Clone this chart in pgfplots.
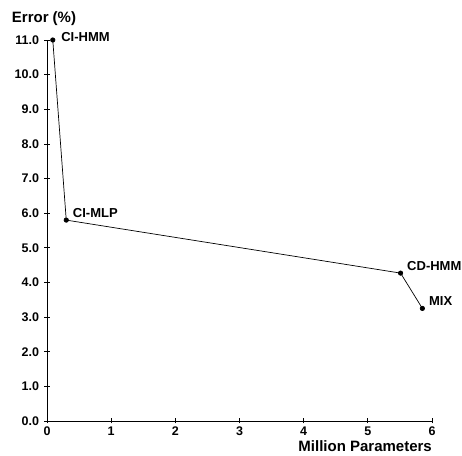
\documentclass[border=0pt]{standalone}
\usepackage{fontspec}
\setmainfont{Liberation Sans}
\usepackage{pgfplots}
\pgfplotsset{compat=1.18}
\begin{document}
\begin{tikzpicture}
\begin{axis}[
  scale only axis,
  width=385pt, height=381pt,
  xmin=0, xmax=6, ymin=0, ymax=11,
  axis lines=left,
  axis line style={-, line width=0.8pt},
  xtick={0,1,2,3,4,5,6},
  ytick={0,1,2,3,4,5,6,7,8,9,10,11},
  tick align=center,
  major tick length=5pt,
  tick style={black, line width=0.7pt},
  /pgf/number format/assume math mode=true,
  ticklabel style={font=\fontsize{12.5}{14}\selectfont\bfseries},
  yticklabel style={xshift=-2pt, /pgf/number format/fixed, /pgf/number format/fixed zerofill, /pgf/number format/precision=1},
  xticklabel style={inner sep=0pt, yshift=-3.5pt},
  xlabel={Million Parameters},
  ylabel={Error (\%)},
  label style={font=\fontsize{15}{17}\selectfont\bfseries},
  xlabel style={at={(rel axis cs:1,0)}, anchor=north east, inner sep=0pt, yshift=-19.5pt},
  ylabel style={at={(rel axis cs:0,1)}, rotate=-90, anchor=south, yshift=11pt, xshift=-3pt},
  clip=false,
]
\addplot[black, line width=0.7pt, mark=*, mark size=2.2pt,
  nodes near coords, point meta=explicit symbolic,
  every node near coord/.style={anchor=west, xshift=3pt, yshift=7pt, font=\fontsize{13}{15}\selectfont\bfseries}]
  table[meta=label] {
x y label
0.09 11.0 {}
0.30 5.80 CI-MLP
5.51 4.27 CD-HMM
5.85 3.25 MIX
};
\node[anchor=west, font=\fontsize{13}{15}\selectfont\bfseries] at (axis cs:0.09,11.0) [xshift=5pt, yshift=3pt] {CI-HMM};
\coordinate (sw) at (rel axis cs:0,0);
\coordinate (ne) at (rel axis cs:1,1);
\end{axis}
\pgfresetboundingbox
\path ([shift={(-47pt,-35pt)}]sw) rectangle ([shift={(30pt,40pt)}]ne);
\end{tikzpicture}
\end{document}
